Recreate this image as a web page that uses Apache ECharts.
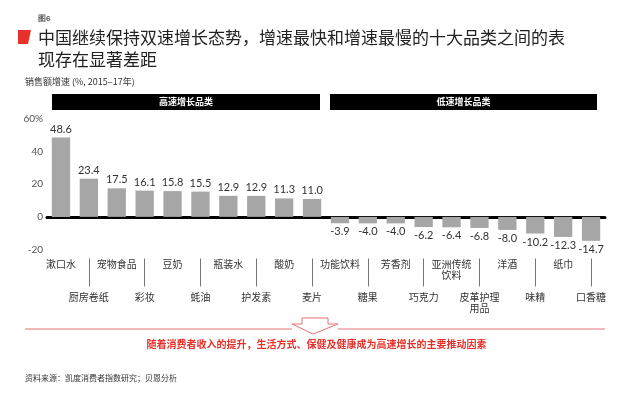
<!DOCTYPE html>
<html>
<head>
<meta charset="utf-8">
<script src="https://cdn.jsdelivr.net/npm/echarts@6/dist/echarts.min.js"></script>
<style>
html,body{margin:0;padding:0;background:#fff;}
#chart{width:640px;height:398px;}
</style>
</head>
<body>
<div id="chart"></div>
<script>
var categories = ['漱口水','厨房卷纸','宠物食品','彩妆','豆奶','蚝油','瓶装水','护发素','酸奶','麦片',
  '功能饮料','糖果','芳香剂','巧克力','亚洲传统饮料','皮革护理用品','洋酒','味精','纸巾','口香糖'];
var growth = [48.6, 23.4, 17.5, 16.1, 15.8, 15.5, 12.9, 12.9, 11.3, 11.0,
  -3.9, -4.0, -4.0, -6.2, -6.4, -6.8, -8.0, -10.2, -12.3, -14.7];
var yTicks = [-20, 0, 20, 40, 60];
var groupLabels = ['高速增长品类', '低速增长品类'];
var titleText = '中国继续保持双速增长态势，增速最快和增速最慢的十大品类之间的表\n现存在显著差距';
var subtitleText = '销售额增速 (%, 2015–17年)';
var figText = '图6';
var conclusionText = '随着消费者收入的提升，生活方式、保健及健康成为高速增长的主要推动因素';
var sourceText = '资料来源：凯度消费者指数研究；贝恩分析';

var CJK = '"Noto Sans CJK SC", "Noto Sans", sans-serif';
var NUM = 'Lato, "Noto Sans CJK SC", sans-serif';
var RED = '#e8312a';

var chart = echarts.init(document.getElementById('chart'));
chart.setOption({
  backgroundColor: '#fff',
  animation: false,
  grid: {left: 47, right: 35, top: 119, bottom: 148.5, containLabel: false},
  xAxis: [{
    type: 'category', data: categories, gridIndex: 0,
    axisLine: {show: true, onZero: true, lineStyle: {color: '#000', width: 3}},
    axisTick: {show: false}, axisLabel: {show: false}, splitLine: {show: false}
  }, {
    type: 'category', data: categories, gridIndex: 0, position: 'bottom', offset: 9,
    axisLine: {show: false},
    axisTick: {show: true, alignWithLabel: true, length: 28,
      interval: function (i) { return i % 2 === 1; },
      lineStyle: {color: '#777', width: 1}},
    axisLabel: {
      interval: 0, margin: 0, fontSize: 10, lineHeight: 11, color: '#333', fontFamily: CJK,
      formatter: function (v, i) {
        var s = v.length > 4 ? v.slice(0, 4) + '\n' + v.slice(4) : v;
        return i % 2 === 1 ? '\n\n\n' + s : s;
      }
    }
  }],
  yAxis: {
    type: 'value', min: yTicks[0], max: yTicks[yTicks.length - 1], interval: 20,
    axisLine: {show: false}, axisTick: {show: false}, splitLine: {show: false},
    axisLabel: {margin: 4, fontSize: 10, color: '#555', fontFamily: NUM,
      formatter: function (v) { return v === 60 ? '60%' : String(v); }}
  },
  series: [{
    type: 'bar', xAxisIndex: 0, barWidth: '65.6%',
    data: growth.map(function (v) {
      return {value: v, label: {position: v >= 0 ? 'top' : 'bottom'}};
    }),
    itemStyle: {color: '#a6a6a6'},
    label: {show: true, distance: 3, fontSize: 11, color: '#333', fontFamily: NUM,
      formatter: function (p) { return p.value.toFixed(1); }}
  }],
  graphic: [
    {type: 'text', left: 38, top: 15, style: {text: figText, fontSize: 8, fontWeight: 'bold', fill: '#555', font: 'bold 8px ' + CJK}},
    {type: 'polygon', shape: {points: [[18, 30], [31, 30], [28, 44], [18, 44]]}, style: {fill: RED}},
    {type: 'text', left: 38, top: 27, style: {text: titleText, fill: '#222', font: '17px ' + CJK, lineHeight: 22}},
    {type: 'text', left: 25, top: 77, style: {text: subtitleText, fill: '#333', font: '9px ' + CJK}},
    {type: 'rect', shape: {x: 52, y: 94, width: 268, height: 16}, style: {fill: '#000'}},
    {type: 'rect', shape: {x: 330, y: 94, width: 267, height: 16}, style: {fill: '#000'}},
    {type: 'text', x: 186, y: 102, style: {text: groupLabels[0], fill: '#fff', font: 'bold 9px ' + CJK, align: 'center', verticalAlign: 'middle'}},
    {type: 'text', x: 463.5, y: 102, style: {text: groupLabels[1], fill: '#fff', font: 'bold 9px ' + CJK, align: 'center', verticalAlign: 'middle'}},
    {type: 'line', shape: {x1: 25, y1: 329, x2: 292, y2: 329}, style: {stroke: '#e37373', lineWidth: 1}},
    {type: 'line', shape: {x1: 338, y1: 329, x2: 605, y2: 329}, style: {stroke: '#e37373', lineWidth: 1}},
    {type: 'polygon', shape: {points: [[302, 318], [328, 318], [328, 324], [338, 324], [313, 334], [292, 324], [302, 324]]},
      style: {fill: '#fff', stroke: '#e37373', lineWidth: 1}},
    {type: 'text', x: 316.5, y: 344, style: {text: conclusionText, fill: RED, font: 'bold 10px ' + CJK, align: 'center', verticalAlign: 'middle'}},
    {type: 'text', left: 25, top: 374, style: {text: sourceText, fill: '#333', font: '8px ' + CJK}}
  ]
});
</script>
</body>
</html>
